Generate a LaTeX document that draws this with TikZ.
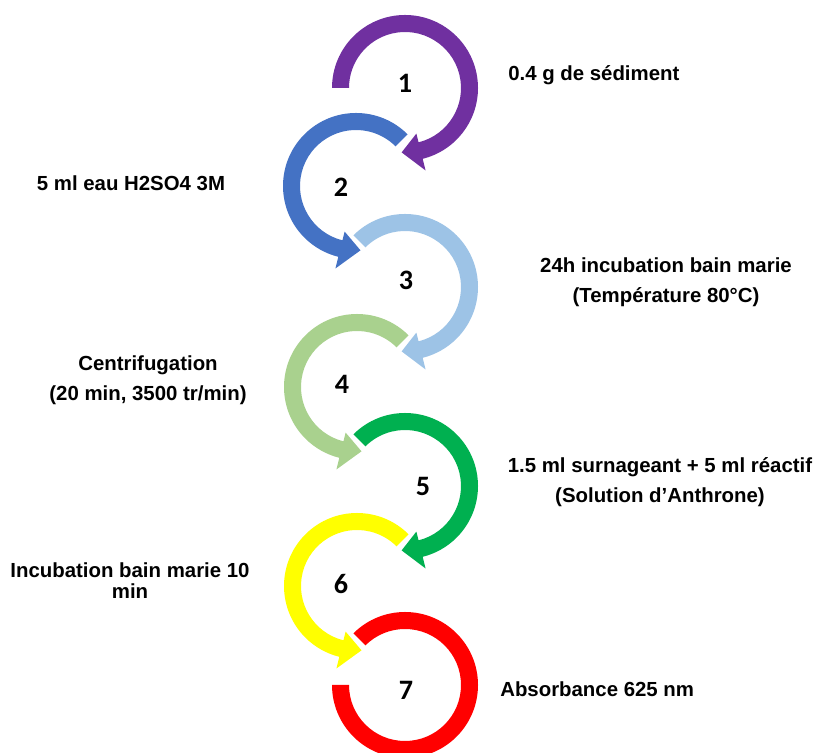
\documentclass[tikz,border=0pt]{standalone}
\usepackage{fontspec}
\setsansfont{Liberation Sans}
\newfontfamily\numfont{Carlito}
\usetikzlibrary{calc}
\definecolor{stepviolet}{HTML}{7030A0}
\definecolor{stepblue}{HTML}{4472C4}
\definecolor{steplightblue}{HTML}{9DC3E6}
\definecolor{steplightgreen}{HTML}{A9D18E}
\definecolor{stepgreen}{HTML}{00B050}
\definecolor{stepyellow}{HTML}{FFFF00}
\definecolor{stepred}{HTML}{FF0000}

\begin{document}
\begin{tikzpicture}[x=0.025cm, y=0.025cm,
  lbl/.style={font=\sffamily\bfseries\fontsize{14.5}{21.3}\selectfont, align=center, inner sep=0pt},
  num/.style={font=\numfont\bfseries\fontsize{20}{24}\selectfont, inner sep=0pt}]
  \useasboundingbox (0,0) rectangle (815,753);

  \coordinate (c1) at (405,665);
  \coordinate (c2) at (356,567);
  \coordinate (c3) at (405,466);
  \coordinate (c4) at (357,366);
  \coordinate (c5) at (405,267);
  \coordinate (c6) at (357,167);
  \coordinate (c7) at (405,68);

  %------------- right hand circles
  \fill[stepviolet] ($(c1)+(180:73)$) arc[start angle=180, end angle=-76, radius=73]
    -- ($(c1)+(-76:85)$) -- ($(c1)+(-93:64.5)$) -- ($(c1)+(-76:47)$) -- ($(c1)+(-76:56)$)
    arc[start angle=-76, end angle=180, radius=56] -- cycle;

  \fill[steplightblue] ($(c3)+(135:73)$) arc[start angle=135, end angle=-76, radius=73]
    -- ($(c3)+(-76:85)$) -- ($(c3)+(-93:64.5)$) -- ($(c3)+(-76:47)$) -- ($(c3)+(-76:56)$)
    arc[start angle=-76, end angle=135, radius=56] -- cycle;

  \fill[stepgreen] ($(c5)+(135:73)$) arc[start angle=135, end angle=-76, radius=73]
    -- ($(c5)+(-76:85)$) -- ($(c5)+(-93:64.5)$) -- ($(c5)+(-76:47)$) -- ($(c5)+(-76:56)$)
    arc[start angle=-76, end angle=135, radius=56] -- cycle;

  %------------- left hand circles
  \fill[stepblue] ($(c2)+(45:73)$) arc[start angle=45, end angle=256, radius=73]
    -- ($(c2)+(256:85)$) -- ($(c2)+(274:64.5)$) -- ($(c2)+(256:47)$) -- ($(c2)+(256:56)$)
    arc[start angle=256, end angle=45, radius=56] -- cycle;

  \fill[steplightgreen] ($(c4)+(45:73)$) arc[start angle=45, end angle=256, radius=73]
    -- ($(c4)+(256:85)$) -- ($(c4)+(274:64.5)$) -- ($(c4)+(256:47)$) -- ($(c4)+(256:56)$)
    arc[start angle=256, end angle=45, radius=56] -- cycle;

  \fill[stepyellow] ($(c6)+(45:73)$) arc[start angle=45, end angle=256, radius=73]
    -- ($(c6)+(256:85)$) -- ($(c6)+(274:64.5)$) -- ($(c6)+(256:47)$) -- ($(c6)+(256:56)$)
    arc[start angle=256, end angle=45, radius=56] -- cycle;

  %------------- last one, no head
  \fill[stepred] ($(c7)+(135:73)$) arc[start angle=135, end angle=-180, radius=73]
    -- ($(c7)+(-180:56)$) arc[start angle=-180, end angle=135, radius=56] -- cycle;

  %------------- numbers
  \node[num] (n1) at (405,670) {1};
  \node[num] (n2) at (341,566) {2};
  \node[num] (n3) at (406,473) {3};
  \node[num] (n4) at (342,369) {4};
  \node[num] (n5) at (423,267) {5};
  \node[num] (n6) at (341,169) {6};
  \node[num] (n7) at (406,63) {7};

  %------------- labels
  \node[lbl, anchor=west] (s1) at (508,678) {0.4 g de sédiment};
  \node[lbl] (s2) at (131,570) {5 ml eau H2SO4 3M};
  \node[lbl] (s3) at (666,471) {24h incubation bain marie\\(Température 80°C)};
  \node[lbl] (s4) at (148,373) {Centrifugation\\(20 min, 3500 tr/min)};
  \node[lbl] (s5) at (660,271) {1.5 ml surnageant + 5 ml réactif\\(Solution d’Anthrone)};
  \node[lbl, font=\sffamily\bfseries\fontsize{14.5}{15}\selectfont] (s6) at (130,172) {Incubation bain marie 10\\min};
  \node[lbl, anchor=west] (s7) at (500,64) {Absorbance 625 nm};

\end{tikzpicture}
\end{document}
